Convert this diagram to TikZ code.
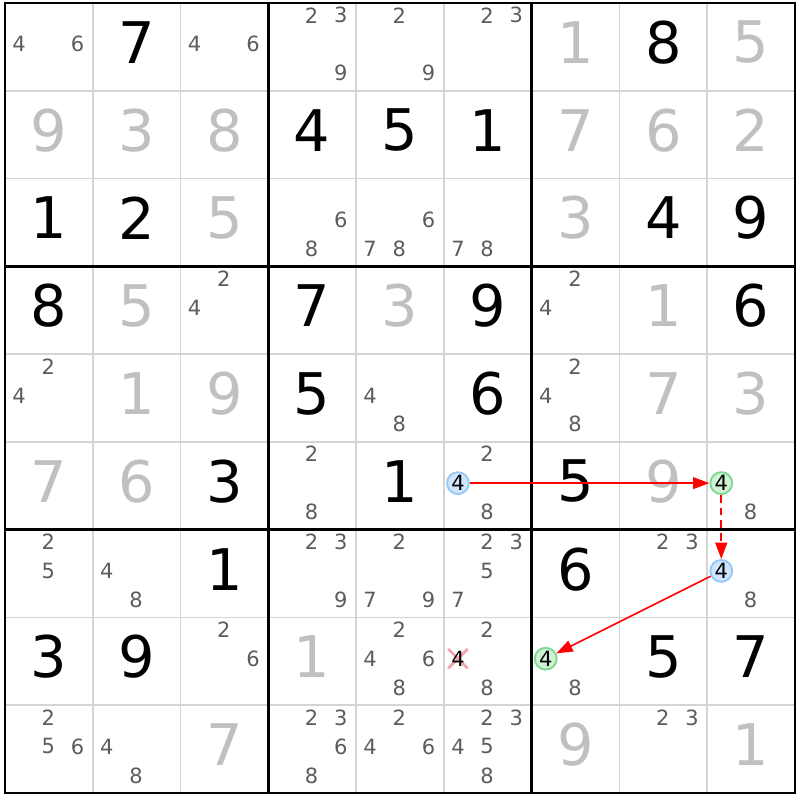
\documentclass[tikz,border=0pt]{standalone}
\usepackage{fontspec}
\setmainfont{DejaVu Sans}
\usetikzlibrary{arrows.meta,shapes.misc}

\definecolor{solved}{HTML}{C0C0C0}
\definecolor{candgray}{HTML}{5C5C5C}
\definecolor{thingrid}{HTML}{D4D4D4}
\definecolor{onfill}{HTML}{CFE5FF}
\definecolor{ondraw}{HTML}{96C8F5}
\definecolor{offfill}{HTML}{D0F2D4}
\definecolor{offdraw}{HTML}{80D890}
\definecolor{crosspink}{HTML}{F4A3AC}

% candidate #3 in column #1, row #2
\newcommand{\cand}[3]{%
  \pgfmathsetmacro{\cx}{#1-1+0.16+0.333*mod(#3-1,3)}%
  \pgfmathsetmacro{\cy}{-(#2-1)-0.14-0.33*int((#3-1)/3)}%
  \node[candnum] (k#2#1#3) at (\cx,\cy) {#3};}

\begin{document}
\begin{tikzpicture}[inner sep=0pt,x=1cm,y=1cm,
  thinline/.style={thingrid,line width=0.6pt},
  boxline/.style={black,line width=0.9pt},
  given/.style={font=\fontsize{18.6}{18.6}\selectfont,text=black},
  solvednum/.style={font=\fontsize{18.6}{18.6}\selectfont,text=solved},
  candnum/.style={font=\fontsize{6.8}{6.8}\selectfont,text=candgray},
  oncand/.style={circle,draw=ondraw,fill=onfill,line width=0.6pt,minimum size=7.1pt,
    font=\fontsize{6.8}{6.8}\selectfont,text=black},
  offcand/.style={oncand,draw=offdraw,fill=offfill},
  link/.style={red,line width=0.5pt,-{Triangle[length=5.3pt,width=3.8pt]}}]

\path[fill=white,use as bounding box] (-0.057,0.034) rectangle (9.057,-9.08);

% grid
\foreach \i in {1,2,4,5,7,8} {
  \draw[thinline] (\i,0) -- (\i,-9);
  \draw[thinline] (0,-\i) -- (9,-\i);
}
\foreach \i in {3,6} {
  \draw[boxline] (\i,0) -- (\i,-9);
  \draw[boxline] (0,-\i) -- (9,-\i);
}
\draw[boxline] (0,0) rectangle (9,-9);

% givens
\foreach \c/\r/\d in {2/1/7,8/1/8, 4/2/4,5/2/5,6/2/1, 1/3/1,2/3/2,8/3/4,9/3/9,
    1/4/8,4/4/7,6/4/9,9/4/6, 4/5/5,6/5/6, 3/6/3,5/6/1,7/6/5, 3/7/1,7/7/6,
    1/8/3,2/8/9,8/8/5,9/8/7}
  \node[given] (g\r\c) at (\c-0.5,-\r+0.55) {\d};

% solved
\foreach \c/\r/\d in {7/1/1,9/1/5, 1/2/9,2/2/3,3/2/8,7/2/7,8/2/6,9/2/2,
    3/3/5,7/3/3, 2/4/5,5/4/3,8/4/1, 2/5/1,3/5/9,8/5/7,9/5/3,
    1/6/7,2/6/6,8/6/9, 4/8/1, 3/9/7,7/9/9,9/9/1}
  \node[solvednum] (s\r\c) at (\c-0.5,-\r+0.55) {\d};

% candidates
\foreach \c/\r/\ds in {1/1/{4,6},3/1/{4,6},4/1/{2,3,9},5/1/{2,9},6/1/{2,3},
    4/3/{6,8},5/3/{6,7,8},6/3/{7,8}, 3/4/{2,4},7/4/{2,4},
    1/5/{2,4},5/5/{4,8},7/5/{2,4,8}, 4/6/{2,8},6/6/{2,8},9/6/{8},
    1/7/{2,5},2/7/{4,8},4/7/{2,3,9},5/7/{2,7,9},6/7/{2,3,5,7},8/7/{2,3},9/7/{8},
    3/8/{2,6},5/8/{2,4,6,8},6/8/{2,8},7/8/{8},
    1/9/{2,5,6},2/9/{4,8},4/9/{2,3,6,8},5/9/{2,4,6},6/9/{2,3,4,5,8},8/9/{2,3}}
  \foreach \d in \ds {\cand{\c}{\r}{\d}}

% chain of 4s
\node[oncand] (h66) at (5.16,-5.47) {4};
\node[offcand] (h69) at (8.16,-5.47) {4};
\node[oncand] (h79) at (8.16,-6.47) {4};
\node[offcand] (h87) at (6.16,-7.47) {4};
\node[cross out,draw=crosspink,line width=0.9pt,minimum size=5.4pt] (x86) at (5.16,-7.47) {};
\node[candnum,text=black] (k864) at (5.16,-7.47) {4};

\draw[link] (h66) -- (h69);
\draw[link,line width=0.65pt,dash pattern=on 2.5pt off 1.6pt] (h69) -- (h79);
\draw[link] (h79) -- (h87);

\end{tikzpicture}
\end{document}
